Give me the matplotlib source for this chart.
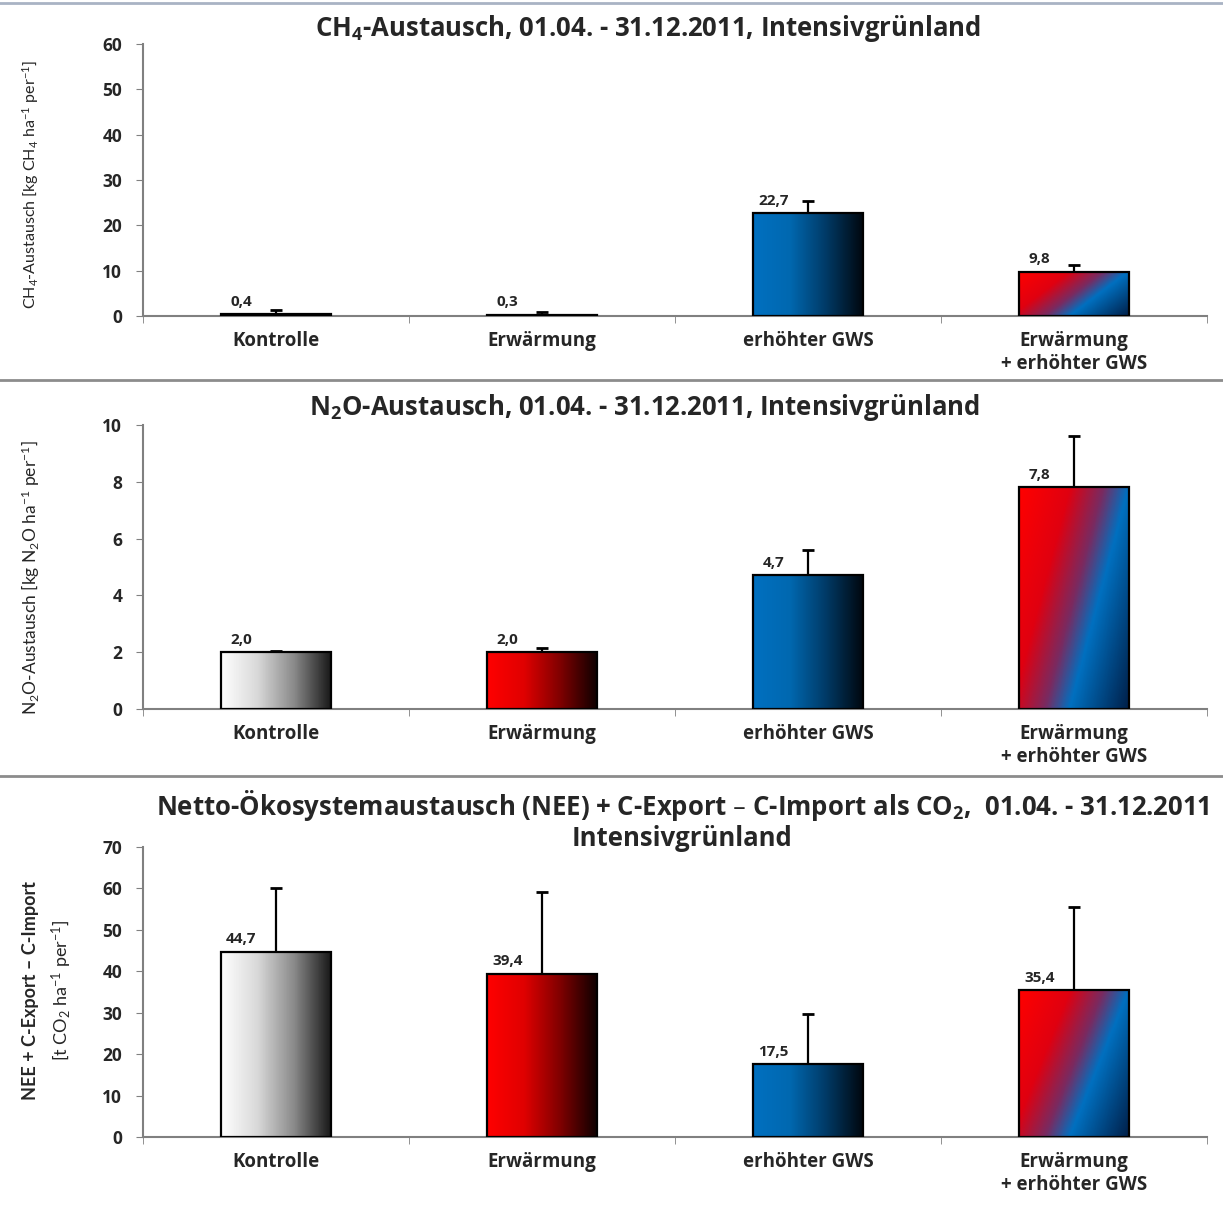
import numpy as np
import matplotlib
matplotlib.use("Agg")
import matplotlib.pyplot as plt
from matplotlib.colors import LinearSegmentedColormap
from matplotlib.lines import Line2D

plt.rcParams['font.family'] = ['Open Sans', 'DejaVu Sans']
plt.rcParams['mathtext.default'] = 'regular'

categories = ["Kontrolle", "Erwärmung", "erhöhter GWS", "Erwärmung\n+ erhöhter GWS"]

ch4_values = [0.4, 0.3, 22.7, 9.8]
ch4_errors = [0.9, 0.5, 2.7, 1.4]

n2o_values = [2.0, 2.0, 4.7, 7.8]
n2o_errors = [0.03, 0.15, 0.9, 1.8]

nee_values = [44.7, 39.4, 17.5, 35.4]
nee_errors = [15.4, 19.7, 12.2, 20.1]

# gradient fills, one per treatment
grad_grey = LinearSegmentedColormap.from_list("g", ["#ffffff", "#d8d8d8", "#8a8a8a", "#1a1a1a"])
grad_red = LinearSegmentedColormap.from_list("r", ["#ff0000", "#e00000", "#800000", "#100000"])
grad_blue = LinearSegmentedColormap.from_list("b", ["#0070c0", "#0068b0", "#003a66", "#000810"])
grad_mix = LinearSegmentedColormap.from_list(
    "m", [(0.0, "#ff0000"), (0.3, "#e00010"), (0.5, "#7a2a60"), (0.65, "#0070c0"), (1.0, "#00204a")])
fills = [grad_grey, grad_red, grad_blue, grad_mix]

LABEL_FONT = ['Lato', 'DejaVu Sans']
TXT = "#262626"


def gradient_bar(ax, x, h, cmap, diagonal, width=0.41):
    xn = np.linspace(0, 1, 100)
    yn = np.linspace(0, 1, 100)
    X, Y = np.meshgrid(xn, yn)
    if diagonal:
        img = 0.65 * X + 0.35 * Y  # origin upper -> Y=0 is top
    else:
        img = X
    bar = ax.bar(x, h, width=width, facecolor="none", edgecolor="black", lw=1.6, zorder=4)[0]
    im = ax.imshow(img, cmap=cmap, vmin=0, vmax=1, aspect="auto", origin="upper",
                   extent=(x - width / 2, x + width / 2, 0, h), zorder=3)
    im.set_clip_path(bar)


def panel(ax, values, errors, ymax, ystep):
    x = np.arange(len(values))
    vals = np.array(values)
    tops = vals + np.array(errors)
    for i, (v, cm) in enumerate(zip(values, fills)):
        gradient_bar(ax, x[i], v, cm, diagonal=(i == 3))
    # upper error bars only, cap on top
    ax.vlines(x, vals, tops, color="black", lw=1.6, zorder=5)
    ax.plot(x, tops, ls="none", marker="_", ms=8, mew=2, color="black", zorder=5)
    for i, v in enumerate(values):
        ax.annotate(f"{v:.1f}".replace(".", ","), (x[i] - 0.13, v), xytext=(0, 4),
                    textcoords="offset points", ha="center", va="bottom",
                    fontsize=11, fontweight="bold", color=TXT)
    ax.set_xlim(-0.5, 3.5)
    ax.set_ylim(0, ymax)
    ax.set_yticks(np.arange(0, ymax + 0.01, ystep))
    ax.set_xticks(x)
    ax.set_xticklabels(categories, fontsize=13.5, fontweight="bold", color=TXT, linespacing=1.2)
    ax.set_xticks(np.arange(-0.5, 4, 1), minor=True)
    ax.tick_params(axis="x", which="major", length=0, pad=11)
    ax.tick_params(axis="x", which="minor", length=5, color="#808080", direction="out")
    ax.tick_params(axis="y", length=5, color="#808080", labelsize=12.5, pad=10, labelcolor=TXT)
    for lab in ax.get_yticklabels():
        lab.set_fontweight("bold")
    for s in ["top", "right"]:
        ax.spines[s].set_visible(False)
    for s in ["left", "bottom"]:
        ax.spines[s].set_color("#808080")
        ax.spines[s].set_linewidth(1.5)
    ax.set_facecolor("none")


fig = plt.figure(figsize=(12.23, 12.08), dpi=100)

ax1 = fig.add_axes([0.1169, 0.7384, 0.870, 0.2252])
ax2 = fig.add_axes([0.1169, 0.4131, 0.870, 0.2351])
ax3 = fig.add_axes([0.1169, 0.0588, 0.870, 0.2401])

panel(ax1, ch4_values, ch4_errors, 60, 10)
panel(ax2, n2o_values, n2o_errors, 10, 2)
panel(ax3, nee_values, nee_errors, 70, 10)

TITLE_FS = 18.5
fig.text(0.53, 0.9768, "CH$_4$-Austausch, 01.04. - 31.12.2011, Intensivgrünland",
         ha="center", va="center", fontsize=TITLE_FS, fontweight="bold", color=TXT)
fig.text(0.527, 0.663, "N$_2$O-Austausch, 01.04. - 31.12.2011, Intensivgrünland",
         ha="center", va="center", fontsize=TITLE_FS, fontweight="bold", color=TXT)
fig.text(0.558, 0.3328,
         "Netto-Ökosystemaustausch (NEE) + C-Export – C-Import als CO$_2$,  01.04. - 31.12.2011",
         ha="center", va="center", fontsize=TITLE_FS, fontweight="bold", color=TXT)
fig.text(0.558, 0.3055, "Intensivgrünland",
         ha="center", va="center", fontsize=TITLE_FS, fontweight="bold", color=TXT)

fig.text(0.025, 0.847, "CH$_4$-Austausch [kg CH$_4$ ha$^{-1}$ per$^{-1}$]", family=LABEL_FONT,
         rotation=90, ha="center", va="center", fontsize=11.5, color=TXT)
fig.text(0.025, 0.522, "N$_2$O-Austausch [kg N$_2$O ha$^{-1}$ per$^{-1}$]", family=LABEL_FONT,
         rotation=90, ha="center", va="center", fontsize=12.5, color=TXT)
fig.text(0.025, 0.180, "NEE + C-Export – C-Import", family=LABEL_FONT,
         rotation=90, ha="center", va="center", fontsize=13, fontweight="bold", color=TXT)
fig.text(0.051, 0.180, "[t CO$_2$ ha$^{-1}$ per$^{-1}$]", family=LABEL_FONT,
         rotation=90, ha="center", va="center", fontsize=13, color=TXT)

# panel separators and frame line
for yy, col in [(1 - 380 / 1208, "#8c8c8c"), (1 - 776 / 1208, "#8c8c8c"), (1 - 3 / 1208, "#a9b3c4")]:
    fig.add_artist(Line2D([0, 1], [yy, yy], color=col, lw=2, transform=fig.transFigure))

fig.savefig("out.png", dpi=100)
